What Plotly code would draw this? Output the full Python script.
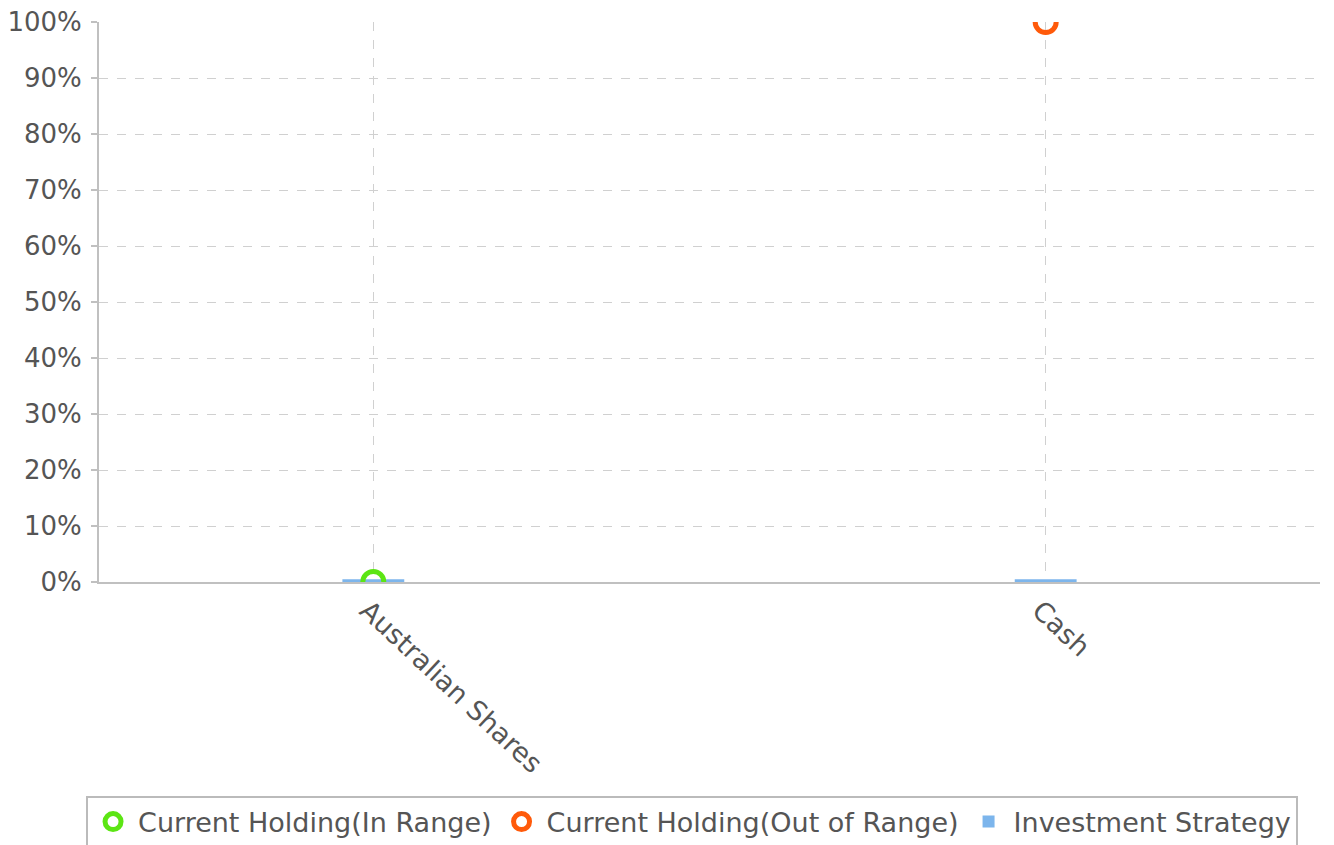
import plotly.graph_objects as go

categories = ["Australian Shares", "Cash"]
in_range = [0, None]
out_of_range = [None, 100]
strategy = [0.5, 0.5]
y_tick_values = [0, 10, 20, 30, 40, 50, 60, 70, 80, 90, 100]
y_tick_labels = ["0%", "10%", "20%", "30%", "40%", "50%", "60%", "70%", "80%", "90%", "100%"]

font_color = "#555555"
fig = go.Figure()
fig.add_trace(go.Scatter(x=categories, y=in_range, mode="markers", name="Current Holding(In Range)",
                         marker=dict(symbol="circle-open", size=21, color="#5ce514", line=dict(width=5))))
fig.add_trace(go.Scatter(x=categories, y=out_of_range, mode="markers", name="Current Holding(Out of Range)",
                         marker=dict(symbol="circle-open", size=21, color="#ff5a0a", line=dict(width=5))))
fig.add_trace(go.Bar(x=categories, y=strategy, name="Investment Strategy",
                     marker=dict(color="#7cb5ec", line=dict(width=0)), width=0.092))

fig.update_layout(
    width=1334, height=845,
    margin=dict(l=91, r=22, t=14, b=271, autoexpand=False),
    plot_bgcolor="white", paper_bgcolor="white",
    font=dict(family="DejaVu Sans", size=26, color=font_color),
    showlegend=True,
    legend=dict(orientation="h", x=0.4857, xanchor="center",
                yref="container", y=0.068, yanchor="top",
                bordercolor="#bbbbbb", borderwidth=2, traceorder="normal", itemwidth=40,
                font=dict(family="DejaVu Sans", size=27, color=font_color)),
    xaxis=dict(type="category", range=[-0.408, 1.408], tickangle=43, automargin=False,
               ticklabelshift=-6,
               showgrid=True, gridcolor="#d0d0d0", griddash="dash", gridwidth=1,
               showline=True, linecolor="#c0c0c0", linewidth=2, ticks="",
               tickfont=dict(family="DejaVu Sans", size=27, color=font_color)),
    yaxis=dict(range=[0, 100], tickmode="array", tickvals=y_tick_values, ticktext=y_tick_labels,
               automargin=False, ticklabeloverflow="allow", ticklabelstandoff=4,
               showgrid=True, gridcolor="#d0d0d0", griddash="dash", gridwidth=1,
               showline=True, linecolor="#c0c0c0", linewidth=2,
               ticks="outside", ticklen=6, tickcolor="#c0c0c0", tickwidth=2,
               zeroline=False, tickfont=dict(family="DejaVu Sans", size=26, color=font_color)),
)
fig.write_html("out.html")
